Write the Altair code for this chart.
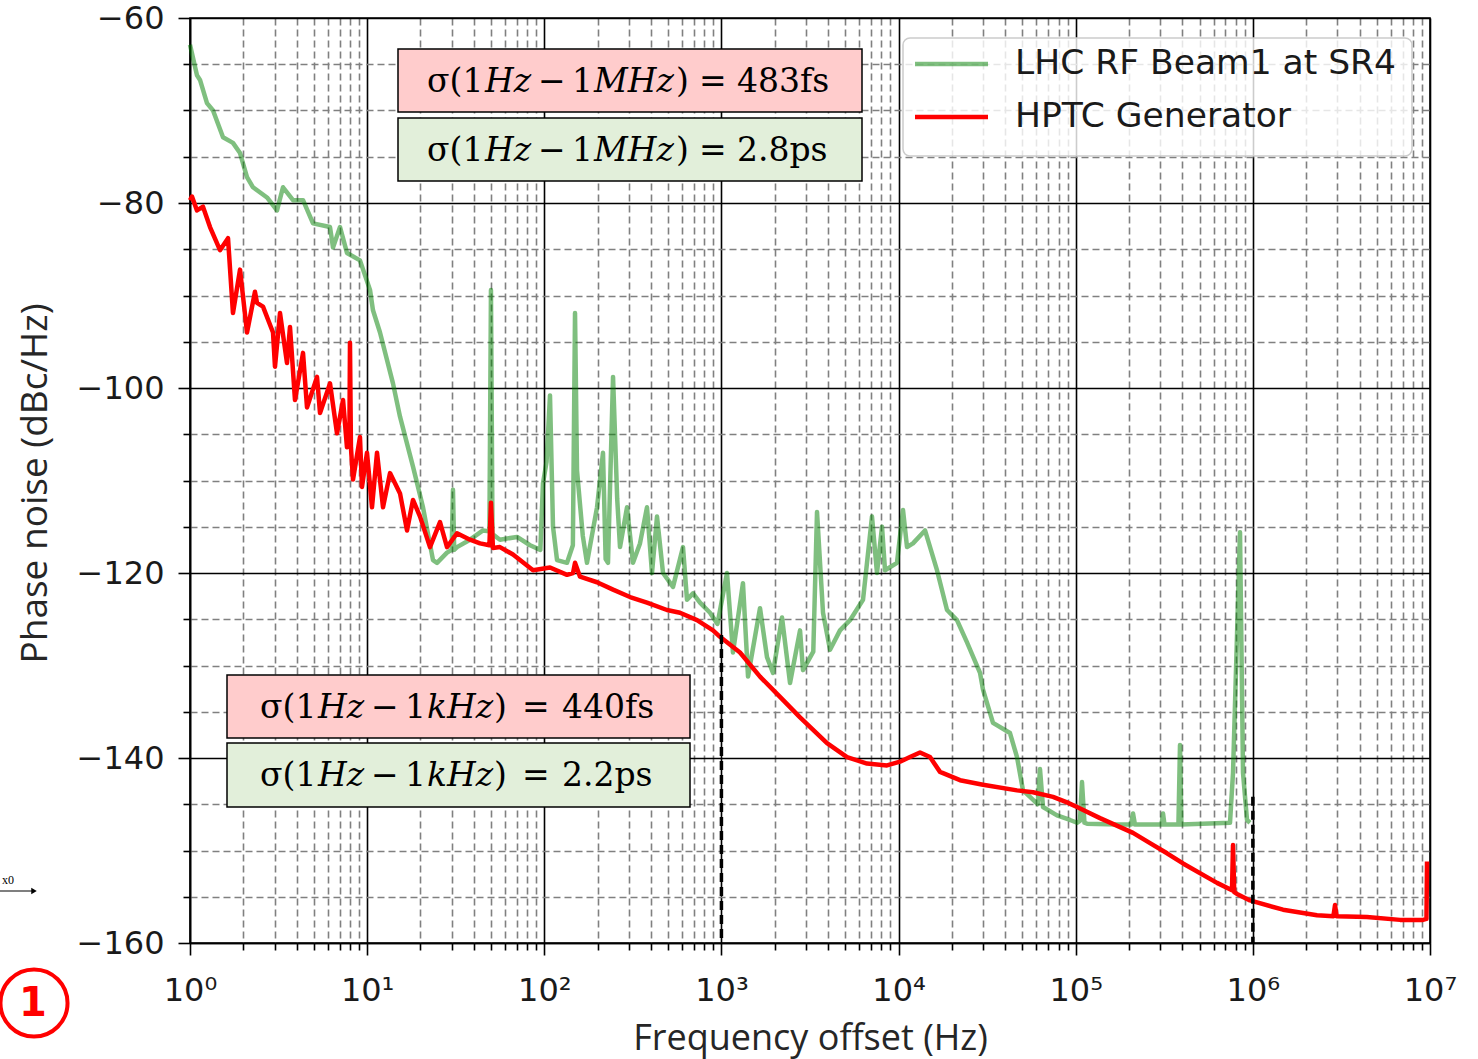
import altair as alt
import pandas as pd

# ---------------- data ----------------
# LHC RF Beam1 at SR4  (frequency offset Hz, phase noise dBc/Hz)
green = [
    (1.0, -62.9), (1.095, -66.2), (1.139, -66.7), (1.247, -69.2), (1.349, -70.0), (1.536, -72.9),
    (1.748, -73.5), (1.916, -74.6), (2.098, -77.2), (2.268, -78.3), (2.721, -79.4), (3.098, -80.8),
    (3.35, -78.3), (3.815, -79.7), (4.345, -79.7), (4.948, -82.2), (6.17, -82.6), (6.417, -84.8),
    (7.029, -82.6), (7.695, -85.4), (9.11, -86.2), (10.38, -89.4), (10.79, -91.6), (11.82, -94.0),
    (13.99, -99.5), (15.33, -103.1), (18.15, -108.5), (20.67, -112.9), (23.54, -118.6), (24.8, -118.9),
    (28.24, -117.8), (30.0, -117.5), (30.52, -111.0), (31.0, -117.5), (32.16, -117.2), (38.08, -116.4),
    (45.08, -115.4), (49.0, -115.5), (50.0, -89.4), (51.0, -115.8), (56.2, -116.4), (70.2, -116.1),
    (83.1, -117.0), (95.0, -117.5), (98.3, -110.3), (103.0, -108.0), (107.7, -100.8), (112.0, -115.0),
    (118.0, -118.6), (134.4, -118.9), (145.0, -117.0), (149.1, -91.9), (153.0, -108.9), (165.0, -116.0),
    (174.2, -118.9), (198.5, -112.9), (214.5, -107.0), (222.0, -118.5), (228.9, -118.9), (244.4, -98.8),
    (258.0, -112.0), (267.6, -117.2), (293.1, -112.9), (316.8, -118.9), (347.0, -116.8), (380.0, -112.9),
    (405.5, -120.0), (432.8, -113.9), (468.0, -120.0), (532.9, -121.5), (606.9, -117.2), (639.3, -122.9),
    (691.0, -122.2), (756.8, -123.2), (862.0, -124.3), (950.0, -125.5), (1075.0, -120.0), (1162.0, -128.6),
    (1323.0, -121.1), (1413.0, -131.2), (1651.0, -123.8), (1808.0, -129.1), (1955.0, -130.8), (2198.0, -124.8),
    (2439.0, -131.9), (2778.0, -126.2), (2887.0, -130.5), (3300.0, -128.5), (3464.0, -113.4), (3745.0, -124.3),
    (4103.0, -128.3), (4670.0, -126.2), (5319.0, -125.1), (6299.0, -122.9), (7079.0, -113.9), (7553.0, -120.0),
    (8063.0, -115.0), (8384.0, -119.7), (9797.0, -118.9), (10593.0, -113.2), (11160.0, -117.2), (12060.0, -116.8),
    (14104.0, -115.4), (16477.0, -119.7), (18770.0, -124.0), (21367.0, -125.1), (24343.0, -127.5), (28826.0, -130.8),
    (29970.0, -132.6), (34120.0, -136.2), (42560.0, -137.3), (46620.0, -139.9), (50400.0, -143.5), (55200.0, -144.2),
    (61000.0, -145.0), (62860.0, -141.2), (65360.0, -145.3), (78420.0, -146.2), (92860.0, -146.7), (101700.0, -147.0),
    (105700.0, -146.8), (108500.0, -142.6), (112000.0, -147.0), (115800.0, -147.1), (171100.0, -147.2),
    (205000.0, -147.2), (210600.0, -146.0), (216000.0, -147.2), (305000.0, -147.2), (311100.0, -146.0),
    (317000.0, -147.2), (380000.0, -147.2), (387900.0, -138.6), (395000.0, -147.2), (743000.0, -147.0),
    (772600.0, -141.6), (846200.0, -115.6), (879800.0, -141.6), (926800.0, -146.7), (963600.0, -147.0),
]

# HPTC Generator
red = [
    (1.0, -79.7), (1.026, -79.3), (1.095, -80.8), (1.184, -80.4), (1.297, -82.6), (1.477, -85.1),
    (1.639, -83.8), (1.748, -91.9), (1.916, -87.2), (2.098, -94.0), (2.327, -89.6), (2.389, -90.8),
    (2.583, -91.2), (2.942, -94.0), (3.018, -97.7), (3.222, -91.9), (3.528, -97.3), (3.668, -93.4),
    (3.915, -101.3), (4.345, -96.2), (4.576, -102.1), (5.212, -98.8), (5.42, -102.7), (6.17, -99.5),
    (6.76, -104.9), (7.31, -101.3), (7.695, -106.4), (7.95, -104.0), (8.0, -95.1), (8.1, -106.4),
    (8.32, -109.9), (9.11, -105.3), (9.35, -110.7), (9.98, -107.0), (10.65, -112.9), (11.37, -107.0),
    (12.29, -112.9), (13.46, -109.2), (15.33, -111.4), (16.79, -115.4), (18.15, -112.1), (19.89, -113.9),
    (22.63, -117.2), (25.78, -114.5), (28.24, -117.2), (32.16, -115.7), (38.08, -116.4), (43.37, -116.8),
    (49.0, -117.0), (50.0, -112.4), (51.3, -117.3), (56.2, -117.2), (66.6, -118.0), (86.4, -119.7),
    (107.7, -119.4), (134.4, -120.2), (145.3, -120.0), (149.1, -118.9), (159.1, -120.4), (198.5, -121.0),
    (244.4, -121.8), (304.8, -122.6), (380.0, -123.2), (492.8, -124.0), (583.7, -124.3), (728.0, -125.1),
    (896.3, -126.2), (981.7, -126.9), (1273.0, -128.6), (1651.0, -131.2), (2141.0, -133.4), (2778.0, -135.6),
    (3945.0, -138.4), (5116.0, -139.9), (6634.0, -140.6), (8604.0, -140.8), (10186.0, -140.4), (11600.0, -139.9),
    (13213.0, -139.4), (15044.0, -139.9), (17135.0, -141.5), (22223.0, -142.4), (29970.0, -142.9),
    (46620.0, -143.5), (57410.0, -143.7), (74440.0, -144.2), (89290.0, -144.8), (101700.0, -145.3),
    (137100.0, -146.5), (210600.0, -148.1), (262700.0, -149.2), (327600.0, -150.3), (403400.0, -151.4),
    (627700.0, -153.5), (762600.0, -154.3), (772600.0, -149.4), (785000.0, -154.5), (813800.0, -154.7),
    (963600.0, -155.4), (1480000.0, -156.4), (2302000.0, -157.0), (2850000.0, -157.1), (2910000.0, -155.9),
    (2970000.0, -157.1), (4410000.0, -157.2), (6770000.0, -157.5), (9130000.0, -157.5), (9550000.0, -157.4),
    (9620000.0, -151.2),
]

series_names = ["LHC RF Beam1 at SR4", "HPTC Generator"]

# integration limits marked by dashed verticals (freq, top of line)
markers_f = [1000.0, 1000000.0]
markers_top = [-126.7, -144.2]

# annotation texts
ann_range_1M = "MHz"
ann_range_1k = "kHz"
ann_values = ["483fs", "2.8ps", "440fs", "2.2ps"]

# tick values
x_major = [1, 10, 100, 1000, 10000, 100000, 1000000, 10000000]
x_minor = [m * d for d in x_major[:-1] for m in range(2, 10)]
x_ticks = sorted(x_major + x_minor)
y_ticks = list(range(-160, -55, 5))

# ---------------- build ----------------
green_df = pd.DataFrame(green, columns=["f", "db"])
red_df = pd.DataFrame(red, columns=["f", "db"])
mark_df = pd.DataFrame({"f": markers_f, "db": markers_top, "db2": [-160, -160]})
one = pd.DataFrame({"k": [0]})

XMAJ = "abs(log(datum.value)/LN10 - round(log(datum.value)/LN10)) < 0.001"
YMAJ = "datum.value % 20 == 0"
SUP = "['⁰','¹','²','³','⁴','⁵','⁶','⁷']"

x_axis = alt.Axis(
    values=x_ticks,
    labelExpr=f"({XMAJ}) ? '10' + {SUP}[round(log(datum.value)/LN10)] : ''",
    grid=True,
    gridColor={"condition": {"test": XMAJ, "value": "#000000"}, "value": "#808080"},
    gridDash={"condition": {"test": XMAJ, "value": [1, 0]}, "value": [7, 4]},
    gridWidth=1.6,
    tickSize={"condition": {"test": XMAJ, "value": 12}, "value": 7},
    tickColor="black", tickWidth=1.6,
    domainColor="black", domainWidth=1.6,
    labelFont="DejaVu Sans", labelFontSize=32, labelColor="#1a1a1a", labelPadding=20,
    labelOverlap=False, labelFlush=False,
    title="Frequency offset (Hz)", titleFont="Open Sans", titleFontSize=36,
    titleFontWeight="normal", titleColor="#262626",
    titleX=620, titleY=95, titleAlign="center", titleBaseline="middle",
)
y_axis = alt.Axis(
    values=y_ticks,
    labelExpr=f"({YMAJ}) ? format(datum.value, 'd') : ''",
    grid=True,
    gridColor={"condition": {"test": YMAJ, "value": "#000000"}, "value": "#808080"},
    gridDash={"condition": {"test": YMAJ, "value": [1, 0]}, "value": [7, 4]},
    gridWidth=1.6,
    tickSize={"condition": {"test": YMAJ, "value": 12}, "value": 7},
    tickColor="black", tickWidth=1.6,
    domainColor="black", domainWidth=1.6,
    labelFont="DejaVu Sans", labelFontSize=32, labelColor="#1a1a1a", labelPadding=14,
    labelOverlap=False, labelFlush=False,
    title="Phase noise (dBc/Hz)", titleFont="Open Sans", titleFontSize=37,
    titleFontWeight="normal", titleColor="#262626",
    titleX=-155, titleY=465, titleAlign="center", titleBaseline="middle", titleAngle=-90,
)

xscale = alt.Scale(type="log", domain=[1, 1e7], nice=False)
yscale = alt.Scale(domain=[-160, -60], nice=False, zero=False)
X = alt.X("f:Q", scale=xscale, axis=x_axis)
Y = alt.Y("db:Q", scale=yscale, axis=y_axis)

green_line = alt.Chart(green_df).mark_line(
    color="#008000", strokeWidth=4.5, opacity=0.5, strokeJoin="round"
).encode(x=X, y=Y)
red_line = alt.Chart(red_df).mark_line(
    color="#ff0000", strokeWidth=4.5, strokeJoin="round"
).encode(x=X, y=Y)
verticals = alt.Chart(mark_df).mark_rule(
    color="black", strokeWidth=3.5, strokeDash=[9, 5]
).encode(x=X, y=Y, y2="db2:Q")

layers = [green_line, red_line, verticals]


def rect(x1, x2, y1, y2, fill, stroke="black", sw=1.5, **kw):
    return alt.Chart(one).mark_rect(fill=fill, stroke=stroke, strokeWidth=sw, **kw).encode(
        x=alt.value(x1), x2=alt.value(x2), y=alt.value(y1), y2=alt.value(y2))


def seg(text, x, y, italic=False, size=33, font="DejaVu Serif", color="black", align="left", weight="normal"):
    return alt.Chart(one).mark_text(
        text=text, align=align, baseline="middle", font=font, fontSize=size,
        fontStyle="italic" if italic else "normal", fontWeight=weight, color=color
    ).encode(x=alt.value(x), y=alt.value(y))


PINK = "#ffcccc"
LGREEN = "#e2efda"

# annotation boxes (plot-area pixel coordinates)
boxes = [
    (208, 672, 31, 94, PINK, ann_range_1M, ann_values[0], 237),
    (208, 672, 100, 163, LGREEN, ann_range_1M, ann_values[1], 237),
    (37, 500, 657, 720, PINK, ann_range_1k, ann_values[2], 70),
    (37, 500, 725, 789, LGREEN, ann_range_1k, ann_values[3], 70),
]
for x1, x2, y1, y2, fill, rng, val, x0 in boxes:
    yc = (y1 + y2) / 2 + 1
    layers.append(rect(x1, x2, y1, y2, fill))
    if rng == "MHz":
        offs = [0, 58, 111, 145, 167, 249, 272, 310]
    else:
        offs = [0, 58, 111, 145, 167, 234, 262, 302]
    parts = [("σ(1", False), ("Hz", True), ("−", False), ("1", False), (rng, True),
             (")", False), ("=", False), (val, False)]
    for (t, it), o in zip(parts, offs):
        layers.append(seg(t, x0 + o, yc, italic=it))

# legend
layers.append(rect(713, 1222, 20, 138, "white", stroke="#cccccc", sw=1.5,
                   cornerRadius=7, fillOpacity=0.8))
legend_colors = ["#008000", "#ff0000"]
legend_opac = [0.5, 1.0]
for i, (name, col, op) in enumerate(zip(series_names, legend_colors, legend_opac)):
    yy = 46 + 53 * i
    layers.append(alt.Chart(one).mark_rule(color=col, strokeWidth=4.5, opacity=op).encode(
        x=alt.value(725), x2=alt.value(798), y=alt.value(yy)))
    layers.append(seg(name, 825, yy, size=34.5, font="DejaVu Sans", color="#1a1a1a"))

# stray marks outside the plot in the reference figure
layers.append(alt.Chart(one).mark_point(shape="circle", size=4500, color="#ff0000",
                                        strokeWidth=4, filled=False, opacity=1).encode(
    x=alt.value(-156), y=alt.value(985)))
layers.append(seg("1", -157, 986, size=40, font="DejaVu Sans", color="#ff0000",
                  align="center", weight="bold"))
layers.append(alt.Chart(one).mark_rule(color="black", strokeWidth=1.2).encode(
    x=alt.value(-190), x2=alt.value(-156), y=alt.value(873)))
layers.append(alt.Chart(one).mark_point(shape="triangle-right", size=40, color="black",
                                        filled=True, opacity=1).encode(
    x=alt.value(-156), y=alt.value(873)))
layers.append(seg("x0", -188, 862, size=12, font="Liberation Serif", color="black"))

chart = alt.layer(*layers).properties(
    width=1240, height=925,
    padding={"left": 190, "top": 18, "right": 48, "bottom": 116},
    autosize=alt.AutoSizeParams(type="none"),
    background="white",
).configure_view(stroke="black", strokeWidth=1.6)

chart.save("out.html", embed_options={"renderer": "svg", "actions": False})
